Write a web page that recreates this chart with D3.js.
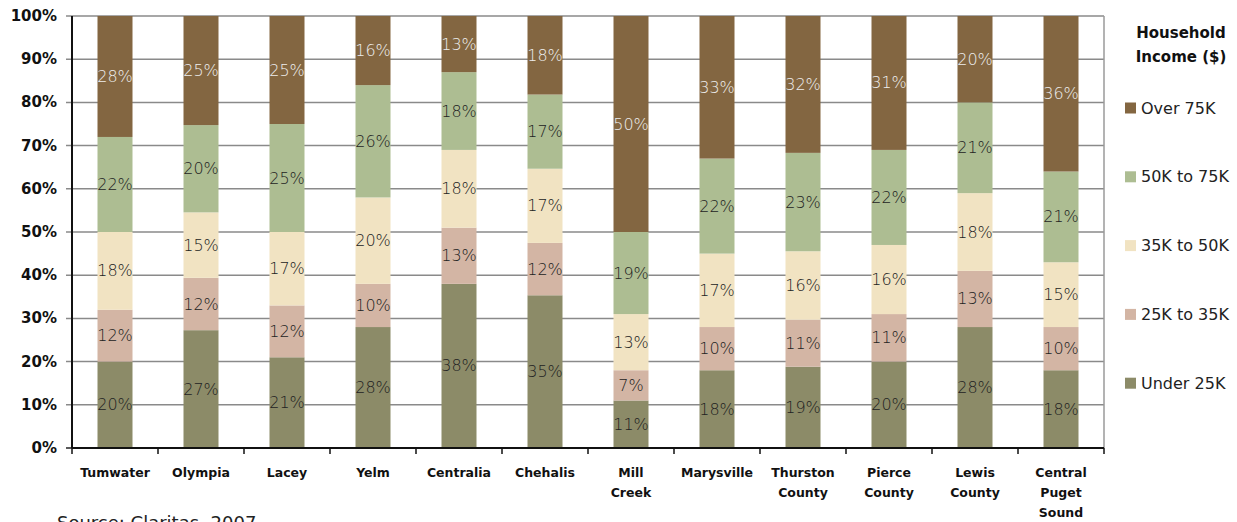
<!DOCTYPE html>
<html><head><meta charset="utf-8">
<script src="https://cdn.jsdelivr.net/npm/d3@7"></script>
<style>html,body{margin:0;padding:0;background:#fff;overflow:hidden}</style>
</head><body>
<svg id="chart" width="1237" height="522"></svg>
<script>
const categories = [["Tumwater"],["Olympia"],["Lacey"],["Yelm"],["Centralia"],["Chehalis"],["Mill","Creek"],["Marysville"],["Thurston","County"],["Pierce","County"],["Lewis","County"],["Central","Puget","Sound"]];
const seriesNames = ["Under 25K","25K to 35K","35K to 50K","50K to 75K","Over 75K"];
const under25 = [20,27,21,28,38,35,11,18,19,20,28,18];
const k25to35 = [12,12,12,10,13,12,7,10,11,11,13,10];
const k35to50 = [18,15,17,20,18,17,13,17,16,16,18,15];
const k50to75 = [22,20,25,26,18,17,19,22,23,22,21,21];
const over75 = [28,25,25,16,13,18,50,33,32,31,20,36];
const yTicks = [0,10,20,30,40,50,60,70,80,90,100];
const colors = ["#8c8b68","#d3b5a4","#f1e3c2","#adbd92","#836641"];
const labelColors = ["#222","#222","#222","#222","#eee"];

const series = [under25,k25to35,k35to50,k50to75,over75];
const svg = d3.select("#chart");
const L=72, R=1104, T=16, B=448;
const x = d3.scaleBand().domain(d3.range(categories.length)).range([L,R]).paddingInner(0.593).paddingOuter(0.2965);
const y = d3.scaleLinear().domain([0,100]).range([B,T]);

// gridlines
svg.append("g").selectAll("line").data(yTicks.filter(t=>t>0)).join("line")
  .attr("x1",L-6).attr("x2",R).attr("y1",d=>y(d)).attr("y2",d=>y(d))
  .attr("stroke","#8a8a8a").attr("stroke-width",1.5);
svg.append("line").attr("x1",L-6).attr("x2",L).attr("y1",B).attr("y2",B).attr("stroke","#222").attr("stroke-width",1.5);
svg.append("line").attr("x1",R).attr("x2",R).attr("y1",T).attr("y2",B).attr("stroke","#9a9a9a").attr("stroke-width",1.5);

// stacked normalized data
const stacks = categories.map((c,i)=>{
  const vals = series.map(s=>s[i]);
  const tot = d3.sum(vals);
  let acc=0;
  return vals.map((v,k)=>{const y0=acc/tot*100; acc+=v; return {i,k,v,y0,y1:acc/tot*100};});
});

const defs = svg.append("defs");
categories.forEach((c,i)=>{
  defs.append("clipPath").attr("id","clip"+i).append("rect")
    .attr("x",x(i)).attr("y",T).attr("width",x.bandwidth()).attr("height",B-T);
});

const bars = svg.append("g");
stacks.forEach((segs,i)=>{
  const g = bars.append("g");
  g.selectAll("rect").data(segs).join("rect")
    .attr("x",x(i)).attr("width",x.bandwidth())
    .attr("y",d=>y(d.y1)).attr("height",d=>y(d.y0)-y(d.y1))
    .attr("fill",d=>colors[d.k]);
  g.append("g").attr("clip-path",`url(#clip${i})`).selectAll("text").data(segs).join("text")
    .attr("x",x(i)+x.bandwidth()/2).attr("y",d=>(y(d.y0)+y(d.y1))/2)
    .attr("text-anchor","middle").attr("dominant-baseline","central")
    .attr("font-family","'DejaVu Sans',sans-serif").attr("font-weight",300).attr("font-size",16)
    .attr("fill",d=>labelColors[d.k]).text(d=>d.v+"%");
});

// axes
svg.append("line").attr("x1",L).attr("x2",L).attr("y1",T).attr("y2",B).attr("stroke","#111").attr("stroke-width",2);
svg.append("line").attr("x1",L).attr("x2",R).attr("y1",B).attr("y2",B).attr("stroke","#111").attr("stroke-width",2);
svg.append("g").selectAll("line").data(d3.range(categories.length+1)).join("line")
  .attr("x1",d=>L+d*x.step()).attr("x2",d=>L+d*x.step()).attr("y1",B).attr("y2",B+6)
  .attr("stroke","#111").attr("stroke-width",1.5);

svg.append("g").selectAll("text").data(yTicks).join("text")
  .attr("x",57).attr("y",d=>y(d)).attr("text-anchor","end").attr("dominant-baseline","central")
  .attr("font-family","'DejaVu Sans',sans-serif").attr("font-weight","bold").attr("font-size",15)
  .attr("fill","#111").text(d=>d+"%");

const xl = svg.append("g");
categories.forEach((lines,i)=>{
  const t = xl.append("text").attr("text-anchor","middle")
    .attr("font-family","'DejaVu Sans',sans-serif").attr("font-weight","bold").attr("font-size",12.5).attr("fill","#111");
  lines.forEach((ln,j)=>t.append("tspan").attr("x",x(i)+x.bandwidth()/2).attr("y",477+j*20).text(ln));
});

// legend
const lg = svg.append("g");
["Household","Income ($)"].forEach((t,j)=>lg.append("text").attr("x",1181).attr("y",38+j*24)
  .attr("text-anchor","middle").attr("font-family","'DejaVu Sans',sans-serif").attr("font-weight","bold")
  .attr("font-size",15).attr("fill","#111").text(t));
const legendOrder = [4,3,2,1,0];
legendOrder.forEach((k,j)=>{
  const yy = 108 + j*68.8;
  lg.append("rect").attr("x",1125).attr("y",yy-5.5).attr("width",11).attr("height",11).attr("fill",colors[k]);
  lg.append("text").attr("x",1141).attr("y",yy).attr("dominant-baseline","central")
    .attr("font-family","'DejaVu Sans',sans-serif").attr("font-size",16).attr("fill","#222").text(seriesNames[k]);
});

svg.append("text").attr("x",57).attr("y",529).attr("font-family","'DejaVu Sans',sans-serif")
  .attr("font-size",18).attr("fill","#222").text("Source: Claritas, 2007");
</script>
</body></html>
